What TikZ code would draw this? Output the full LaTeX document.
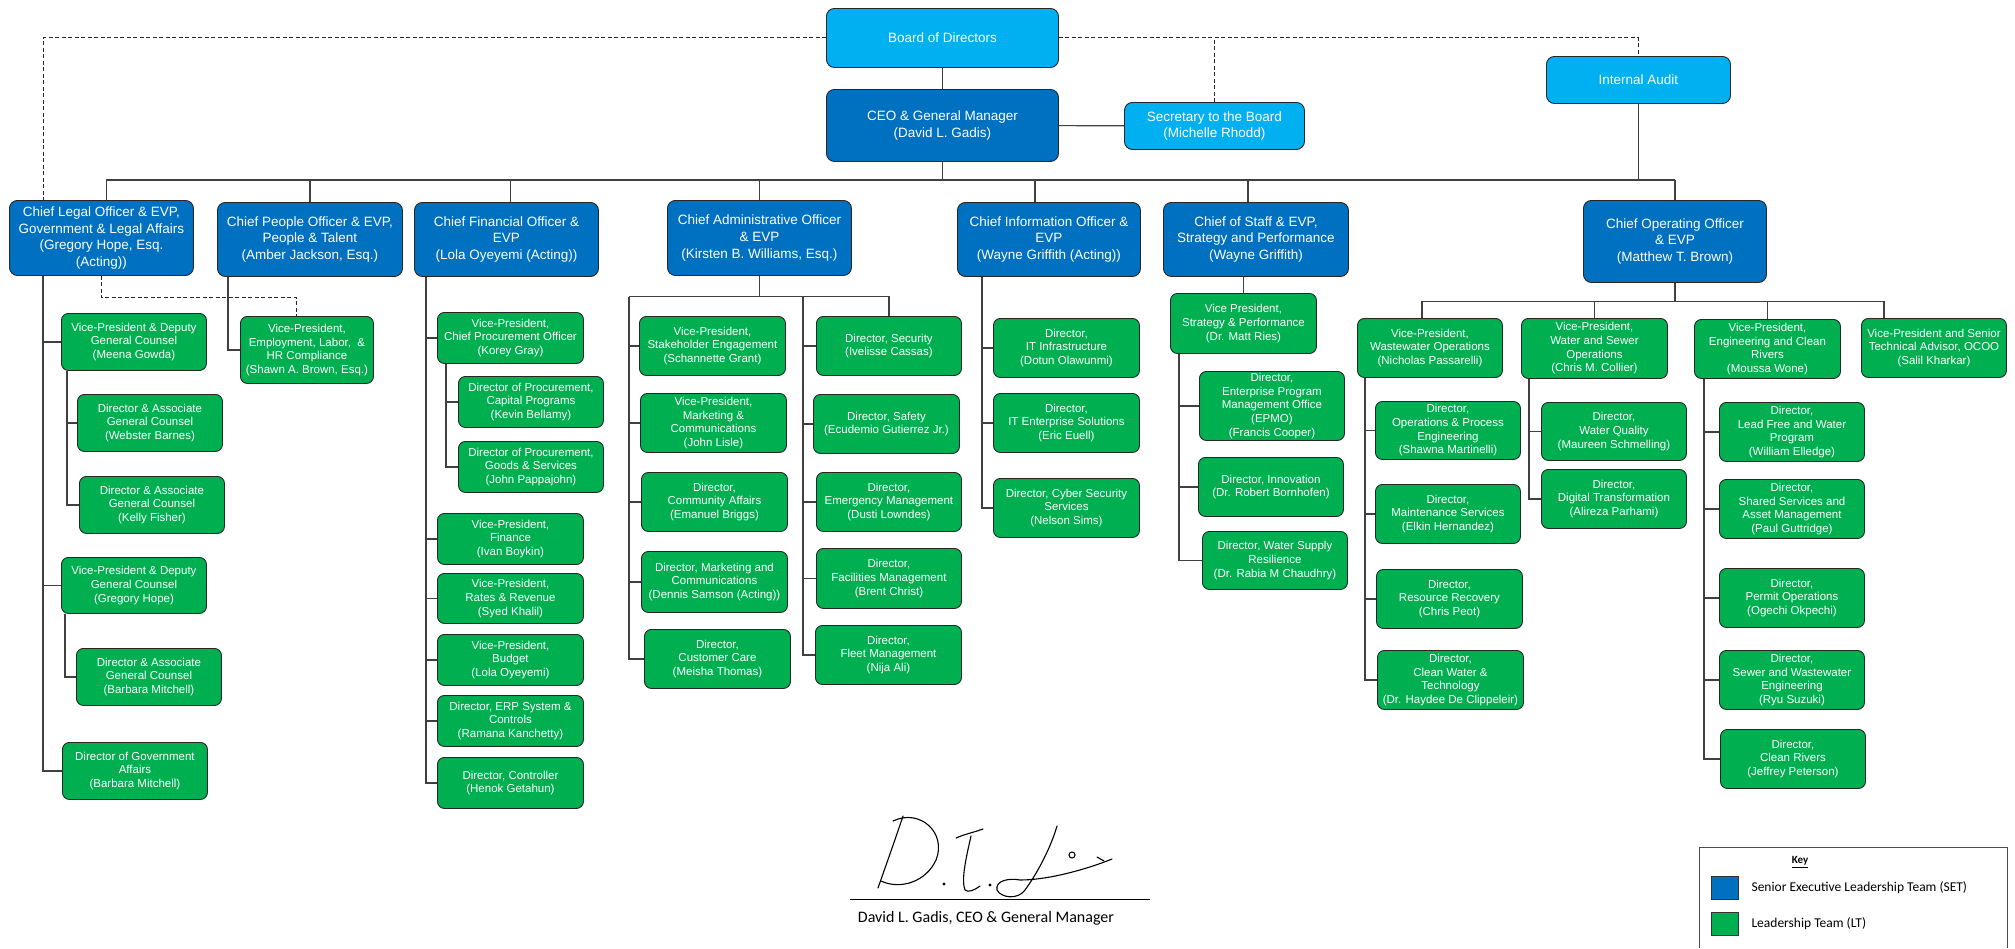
\documentclass[tikz,border=0pt]{standalone}
\usepackage{fontspec}
\setmainfont{Liberation Sans}
\newfontfamily\keyfont{Carlito}
\definecolor{setblue}{HTML}{0070C0}
\definecolor{brdblue}{HTML}{00B0F0}
\definecolor{ltgreen}{HTML}{00B050}

\begin{document}
\begin{tikzpicture}[x=1pt, y=-1pt,
    orgbox/.style={rounded corners=8pt, draw=black!85, line width=0.9pt, text=white,
        align=center, anchor=north west, inner sep=1pt},
    setbox/.style={orgbox, fill=setblue, font=\fontsize{13.5}{16.7}\selectfont},
    brdbox/.style={setbox, fill=brdblue},
    ltbox/.style={orgbox, rounded corners=7pt, fill=ltgreen, font=\fontsize{11.5}{13.7}\selectfont,
        minimum width=146pt, minimum height=59pt},
    boxw/.style={minimum width=#1pt},
    boxh/.style={minimum height=#1pt},
    link/.style={draw=black!75, line width=1.1pt},
    dashlink/.style={draw=black!85, line width=1pt, dash pattern=on 4pt off 2.5pt}]
  \useasboundingbox (0,0) rectangle (2015,948);

  % board and CEO
  \node[brdbox, boxw=232, boxh=59] (board) at (826,8) {Board of Directors};
  \node[setbox, boxw=232, boxh=72] (ceo) at (826,89) {CEO \& General Manager\\(David L. Gadis)};
  \node[brdbox, boxw=180, boxh=47] (secretary) at (1124,102) {Secretary to the Board\\(Michelle Rhodd)};
  \node[brdbox, boxw=184, boxh=47] (audit) at (1546,56) {Internal Audit};

  % chiefs
  \node[setbox, boxw=184, boxh=75] (legal) at (9,200) {Chief Legal Officer \& EVP,\\Government \& Legal Affairs\\(Gregory Hope, Esq.\\(Acting))};
  \node[setbox, boxw=185, boxh=74] (people) at (217,202) {Chief People Officer \& EVP,\\People \& Talent\\(Amber Jackson, Esq.)};
  \node[setbox, boxw=184, boxh=74] (cfo) at (414,202) {Chief Financial Officer \&\\EVP\\(Lola Oyeyemi (Acting))};
  \node[setbox, boxw=184, boxh=75] (cao) at (667,200) {Chief Administrative Officer\\\& EVP\\(Kirsten B. Williams, Esq.)};
  \node[setbox, boxw=183, boxh=74] (cio) at (957,202) {Chief Information Officer \&\\EVP\\(Wayne Griffith (Acting))};
  \node[setbox, boxw=185, boxh=74] (cos) at (1163,202) {Chief of Staff \& EVP,\\Strategy and Performance\\(Wayne Griffith)};
  \node[setbox, boxw=183, boxh=82] (coo) at (1583,200) {Chief Operating Officer\\\& EVP\\(Matthew T. Brown)};

  % legal and people
  \node[ltbox, boxw=145, boxh=57] (meena) at (61,313) {Vice-President \& Deputy\\General Counsel\\(Meena Gowda)};
  \node[ltbox, boxw=145, boxh=57] (webster) at (77,394) {Director \& Associate\\General Counsel\\(Webster Barnes)};
  \node[ltbox, boxw=145, boxh=57] (kelly) at (79,476) {Director \& Associate\\General Counsel\\(Kelly Fisher)};
  \node[ltbox, boxw=145, boxh=56] (ghope) at (61,557) {Vice-President \& Deputy\\General Counsel\\(Gregory Hope)};
  \node[ltbox, boxw=145, boxh=57] (barbara) at (76,648) {Director \& Associate\\General Counsel\\(Barbara Mitchell)};
  \node[ltbox, boxw=145, boxh=57] (govaff) at (62,742) {Director of Government\\Affairs\\(Barbara Mitchell)};
  \node[ltbox, boxw=133, boxh=67] (employ) at (240,316) {Vice-President,\\Employment, Labor,\ \ \&\\HR Compliance\\(Shawn A. Brown, Esq.)};

  % finance
  \node[ltbox, boxh=51] (korey) at (437,312) {Vice-President,\\Chief Procurement Officer\\(Korey Gray)};
  \node[ltbox, boxw=145, boxh=51] (capital) at (458,376) {Director of Procurement,\\Capital Programs\\(Kevin Bellamy)};
  \node[ltbox, boxw=145, boxh=51] (goods) at (458,441) {Director of Procurement,\\Goods \& Services\\(John Pappajohn)};
  \node[ltbox, boxh=51] (finance) at (437,513) {Vice-President,\\Finance\\(Ivan Boykin)};
  \node[ltbox, boxh=50] (rates) at (437,573) {Vice-President,\\Rates \& Revenue\\(Syed Khalil)};
  \node[ltbox, boxh=51] (budget) at (437,634) {Vice-President,\\Budget\\(Lola Oyeyemi)};
  \node[ltbox, boxh=51] (erp) at (437,695) {Director, ERP System \&\\Controls\\(Ramana Kanchetty)};
  \node[ltbox, boxh=51] (controller) at (437,757) {Director, Controller\\(Henok Getahun)};

  % administration
  \node[ltbox] (stake) at (639,316) {Vice-President,\\Stakeholder Engagement\\(Schannette Grant)};
  \node[ltbox] (marketing) at (640,393) {Vice-President,\\Marketing \&\\Communications\\(John Lisle)};
  \node[ltbox] (community) at (641,472) {Director,\\Community Affairs\\(Emanuel Briggs)};
  \node[ltbox, boxh=61] (dirmarket) at (641,551) {Director, Marketing and\\Communications\\(Dennis Samson (Acting))};
  \node[ltbox] (custcare) at (644,629) {Director,\\Customer Care\\(Meisha Thomas)};
  \node[ltbox, boxw=145] (security) at (816,316) {Director, Security\\(Ivelisse Cassas)};
  \node[ltbox] (safety) at (813,394) {Director, Safety\\(Ecudemio Gutierrez Jr.)};
  \node[ltbox, boxw=145] (emergency) at (816,472) {Director,\\Emergency Management\\(Dusti Lowndes)};
  \node[ltbox, boxw=145, boxh=60] (facilities) at (816,548) {Director,\\Facilities Management\\(Brent Christ)};
  \node[ltbox] (fleet) at (815,625) {Director,\\Fleet Management\\(Nija Ali)};

  % information
  \node[ltbox] (infra) at (993,318) {Director,\\IT Infrastructure\\(Dotun Olawunmi)};
  \node[ltbox] (enterprise) at (993,393) {Director,\\IT Enterprise Solutions\\(Eric Euell)};
  \node[ltbox] (cyber) at (993,478) {Director, Cyber Security\\Services\\(Nelson Sims)};

  % staff
  \node[ltbox, boxh=60] (ries) at (1170,293) {Vice President,\\Strategy \& Performance\\(Dr. Matt Ries)};
  \node[ltbox, boxw=145, boxh=69] (epmo) at (1199,371) {Director,\\Enterprise Program\\Management Office\\(EPMO)\\(Francis Cooper)};
  \node[ltbox, boxw=145] (innovation) at (1198,457) {Director, Innovation\\(Dr. Robert Bornhofen)};
  \node[ltbox, boxw=145, boxh=58] (supply) at (1202,531) {Director, Water Supply\\Resilience\\(Dr. Rabia M Chaudhry)};

  % operations
  \node[ltbox, boxw=145] (vpww) at (1357,318) {Vice-President,\\Wastewater Operations\\(Nicholas Passarelli)};
  \node[ltbox, boxh=60] (vpws) at (1521,318) {Vice-President,\\Water and Sewer\\Operations\\(Chris M. Collier)};
  \node[ltbox] (vpeng) at (1694,319) {Vice-President,\\Engineering and Clean\\Rivers\\(Moussa Wone)};
  \node[ltbox, boxw=145] (vpsenior) at (1861,318) {Vice-President and Senior\\Technical Advisor, OCOO\\(Salil Kharkar)};
  \node[ltbox, boxw=145, boxh=58] (opsproc) at (1375,401) {Director,\\Operations \& Process\\Engineering\\(Shawna Martinelli)};
  \node[ltbox, boxw=145] (maint) at (1375,484) {Director,\\Maintenance Services\\(Elkin Hernandez)};
  \node[ltbox] (recovery) at (1376,569) {Director,\\Resource Recovery\\(Chris Peot)};
  \node[ltbox] (cleanwater) at (1377,650) {Director,\\Clean Water \&\\Technology\\(Dr. Haydee De Clippeleir)};
  \node[ltbox, boxw=145, boxh=58] (quality) at (1541,402) {Director,\\Water Quality\\(Maureen Schmelling)};
  \node[ltbox, boxw=145] (digital) at (1541,469) {Director,\\Digital Transformation\\(Alireza Parhami)};
  \node[ltbox, boxw=145] (leadfree) at (1719,402) {Director,\\Lead Free and Water\\Program\\(William Elledge)};
  \node[ltbox, boxw=145] (shared) at (1719,479) {Director,\\Shared Services and\\Asset Management\\(Paul Guttridge)};
  \node[ltbox, boxw=145] (permit) at (1719,568) {Director,\\Permit Operations\\(Ogechi Okpechi)};
  \node[ltbox, boxw=145] (sewer) at (1719,650) {Director,\\Sewer and Wastewater\\Engineering\\(Ryu Suzuki)};
  \node[ltbox, boxw=145] (rivers) at (1720,729) {Director,\\Clean Rivers\\(Jeffrey Peterson)};

  % top connectors
  \coordinate (bus) at (0,180);
  \draw[link] (board) -- (ceo);
  \draw[link] (ceo) -- (secretary);
  \draw[link] (ceo.south) -- (ceo.south |- bus);
  \draw[link] (audit.south) -- (audit.south |- bus);
  \draw[link] ([xshift=5pt]legal.north |- bus) -- (coo.north |- bus);
  \foreach \n/\s in {legal/5pt, people/0pt, cfo/4pt, cao/0pt, cio/-14pt, cos/-8pt, coo/0pt}
    \draw[link] ([xshift=\s]\n.north) -- ([xshift=\s]\n.north |- bus);
  \draw[dashlink] (board.west) -| ([xshift=34pt]legal.north west);
  \draw[dashlink] (board.east) -| (audit.north);
  \draw[dashlink] (secretary.north) -- (secretary.north |- board.east);

  % legal and people connectors
  \draw[dashlink] (legal.south) -- ++(0,22) -| ([xshift=-10pt]employ.north);
  \draw[link] ([xshift=11pt]people.south west) |- (employ.west);
  \coordinate (legaltrunk) at ([xshift=34pt]legal.south west);
  \draw[link] (legaltrunk) |- (govaff.west);
  \foreach \n in {meena, ghope}
    \draw[link] (\n.west) -- (\n.west -| legaltrunk);
  \coordinate (meenatrunk) at ([xshift=6pt]meena.south west);
  \draw[link] (meenatrunk) |- (kelly.west);
  \draw[link] (webster.west) -- (webster.west -| meenatrunk);
  \draw[link] ([xshift=4pt]ghope.south west) |- (barbara.west);

  % finance connectors
  \coordinate (cfotrunk) at ([xshift=12pt]cfo.south west);
  \draw[link] (cfotrunk) |- (controller.west);
  \foreach \n in {korey, finance, rates, budget, erp}
    \draw[link] (\n.west) -- (\n.west -| cfotrunk);
  \coordinate (koreytrunk) at ([xshift=9pt]korey.south west);
  \draw[link] (koreytrunk) |- (goods.west);
  \draw[link] (capital.west) -- (capital.west -| koreytrunk);

  % administration connectors
  \draw[link] (cao.south) -- ++(0,21) coordinate (caobus);
  \coordinate (caoleft) at ([xshift=-10pt]stake.west |- caobus);
  \coordinate (caoright) at ([xshift=-13pt]security.west |- caobus);
  \draw[link] (caoleft) -| (security.north);
  \draw[link] (caoleft) |- (custcare.west);
  \foreach \n in {stake, marketing, community, dirmarket}
    \draw[link] (\n.west) -- (\n.west -| caoleft);
  \draw[link] (caoright) |- (fleet.west);
  \foreach \n in {security, safety, emergency, facilities}
    \draw[link] (\n.west) -- (\n.west -| caoright);

  % information and staff connectors
  \coordinate (ciotrunk) at ([xshift=25pt]cio.south west);
  \draw[link] (ciotrunk) |- (cyber.west);
  \foreach \n in {infra, enterprise}
    \draw[link] (\n.west) -- (\n.west -| ciotrunk);
  \draw[link] (cos.south -| ries.north) -- (ries.north);
  \coordinate (riestrunk) at ([xshift=9pt]ries.south west);
  \draw[link] (riestrunk) |- (supply.west);
  \foreach \n in {epmo, innovation}
    \draw[link] (\n.west) -- (\n.west -| riestrunk);

  % operations connectors
  \draw[link] (coo.south) -- ++(0,19) coordinate (coobus);
  \draw[link] ([xshift=-8pt]vpww.north) |- ([xshift=23pt]vpsenior.north west |- coobus)
    -- ([xshift=23pt]vpsenior.north west);
  \foreach \n in {vpws, vpeng}
    \draw[link] (\n.north) -- (\n.north |- coobus);
  \coordinate (wwtrunk) at ([xshift=8pt]vpww.south west);
  \draw[link] (wwtrunk) |- (cleanwater.west);
  \foreach \n in {opsproc, maint, recovery}
    \draw[link] (\n.west) -- (\n.west -| wwtrunk);
  \coordinate (wstrunk) at ([xshift=8pt]vpws.south west);
  \draw[link] (wstrunk) |- (digital.west);
  \draw[link] (quality.west) -- (quality.west -| wstrunk);
  \coordinate (engtrunk) at ([xshift=10pt]vpeng.south west);
  \draw[link] (engtrunk) |- (rivers.west);
  \foreach \n in {leadfree, shared, permit, sewer}
    \draw[link] (\n.west) -- (\n.west -| engtrunk);

  % signature
  \begin{scope}[line width=1.1pt, line cap=round]
    \draw (903,816) .. controls (895,840) and (885,868) .. (878,888);
    \draw (893,821) .. controls (920,808) and (947,833) .. (936,860)
      .. controls (926,882) and (900,890) .. (881,881);
    \fill (944,884) circle (1.6);
    \draw (956,838) .. controls (965,834) and (975,832) .. (983,829);
    \draw (971,836) .. controls (966,858) and (961,880) .. (965,890)
      .. controls (968,893) and (975,890) .. (980,886);
    \fill (990,885) circle (1.6);
    \draw (1057,826) .. controls (1050,850) and (1036,875) .. (1025,890)
      .. controls (1018,900) and (1001,898) .. (997,890)
      .. controls (995,880) and (1010,878) .. (1020,880)
      .. controls (1050,880) and (1090,868) .. (1112,859);
    \draw (1072,855) circle (3);
    \draw (1097,857) -- (1104,861);
  \end{scope}
  \draw[line width=0.8pt] (850,899) -- (1150,899);
  \node[font=\keyfont\fontsize{16}{19}\selectfont] (caption) at (986,918) {David L. Gadis, CEO \& General Manager};

  % key
  \draw[line width=0.8pt, draw=black!70] (1699,948) |- (2007,847) -- (2007,948);
  \node[font=\keyfont\bfseries\fontsize{11}{13}\selectfont] (keytitle) at (1800,862) {\underline{Key}};
  \node[draw=black!80, fill=setblue, minimum width=27pt, minimum height=23pt, anchor=north west, inner sep=0pt] (setkey) at (1711,876) {};
  \node[anchor=west, font=\keyfont\fontsize{13.5}{16}\selectfont] (setlabel) at (1748,888) {Senior Executive Leadership Team (SET)};
  \node[draw=black!80, fill=ltgreen, minimum width=27pt, minimum height=23pt, anchor=north west, inner sep=0pt] (ltkey) at (1711,912) {};
  \node[anchor=west, font=\keyfont\fontsize{13.5}{16}\selectfont] (ltlabel) at (1748,924) {Leadership Team (LT)};
\end{tikzpicture}
\end{document}
